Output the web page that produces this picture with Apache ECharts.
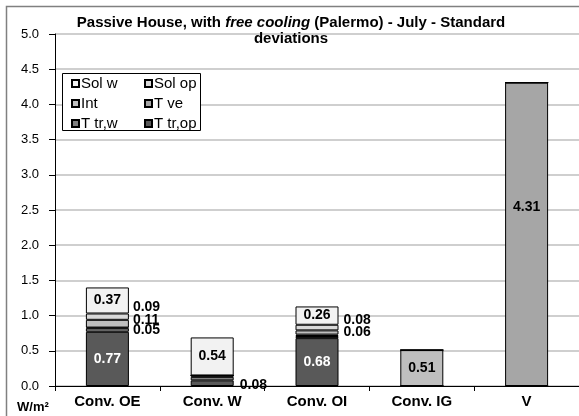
<!DOCTYPE html>
<html>
<head>
<meta charset="utf-8">
<script src="https://cdn.jsdelivr.net/npm/echarts@6/dist/echarts.min.js"></script>
<style>html,body{margin:0;padding:0;background:#fff}#c{width:579px;height:416px}</style>
</head>
<body>
<div id="c"></div>
<script>
const categories = ['Conv. OE', 'Conv. W', 'Conv. OI', 'Conv. IG', 'V'];
const solW  = [0.37, 0.54, 0.26, 0, 0];
const solOp = [0.09, 0, 0.08, 0, 0];
const intG  = [0.11, 0, 0.06, 0.51, 0];
const tVe   = [0.01, 0.02, 0.02, 0, 4.31];
const tTrW  = [0.05, 0.05, 0.03, 0, 0];
const tTrOp = [0.77, 0.08, 0.68, 0, 0];
const yMin = 0, yMax = 5, yStep = 0.5;

const FONT = 'Liberation Sans, Arial, sans-serif';
const colors = {
  'Sol w': '#f2f2f2', 'Sol op': '#d9d9d9', 'Int': '#bfbfbf',
  'T ve': '#a6a6a6', 'T tr,w': '#808080', 'T tr,op': '#595959'
};
const labelSpec = {
  'T tr,op': {0: {position: 'inside', color: '#fff'}, 1: {position: 'right', distance: 6, offset: [0, 2]}, 2: {position: 'inside', color: '#fff'}},
  'T tr,w': {0: {position: 'right', distance: 4}},
  'T ve': {4: {position: 'inside', offset: [0, -27]}},
  'Int': {0: {position: 'right', distance: 4, offset: [0, -4]}, 2: {position: 'right', distance: 5}, 3: {position: 'inside'}},
  'Sol op': {0: {position: 'right', distance: 4, offset: [0, -10]}, 2: {position: 'right', distance: 5, offset: [0, -7]}},
  'Sol w': {0: {position: 'inside'}, 1: {position: 'inside'}, 2: {position: 'inside'}}
};
function mkData(name, arr) {
  return arr.map((v, i) => {
    const l = labelSpec[name] && labelSpec[name][i];
    if (!l) return {value: v, label: {show: false}};
    return {value: v, label: Object.assign({show: true}, l)};
  });
}
const stackOrder = [['T tr,op', tTrOp], ['T tr,w', tTrW], ['T ve', tVe], ['Int', intG], ['Sol op', solOp], ['Sol w', solW]];
const series = stackOrder.map(([name, arr]) => ({
  name: name, type: 'bar', stack: 'a', barWidth: 43,
  itemStyle: {color: colors[name], borderColor: '#000', borderWidth: 1},
  label: {fontFamily: FONT, fontWeight: 'bold', fontSize: 14, color: '#000',
          formatter: p => p.value.toFixed(2)},
  emphasis: {disabled: true},
  data: mkData(name, arr)
}));

const legendCommon = {
  orient: 'vertical', itemWidth: 7, itemHeight: 7, itemGap: 5, icon: 'rect', padding: 0,
  textStyle: {fontFamily: FONT, fontSize: 15, color: '#000', lineHeight: 14, padding: [0, 0, 0, -3]},
  selectedMode: false, z: 5
};

const chart = echarts.init(document.getElementById('c'), null, {renderer: 'canvas'});
chart.setOption({
  animation: false,
  backgroundColor: '#fff',
  title: {
    text: '{b|Passive House, with }{i|free cooling}{b| (Palermo) - July - Standard}\n{b|deviations}',
    left: 291, top: 15, padding: 0,
    textAlign: 'center',
    textStyle: {rich: {
      b: {fontFamily: FONT, fontWeight: 'bold', fontSize: 15, color: '#000', lineHeight: 16, align: 'center'},
      i: {fontFamily: FONT, fontWeight: 'bold', fontStyle: 'italic', fontSize: 15, color: '#000', lineHeight: 16}
    }}
  },
  grid: {left: 55, right: -4, top: 34, bottom: 30, containLabel: false},
  legend: [
    Object.assign({}, legendCommon, {left: 71, top: 76, data: ['Sol w', 'Int', 'T tr,w']}),
    Object.assign({}, legendCommon, {left: 144, top: 76, data: ['Sol op', 'T ve', 'T tr,op']})
  ],
  xAxis: {
    type: 'category', data: categories,
    axisLine: {lineStyle: {color: '#000', width: 1}},
    axisTick: {show: true, length: 5, lineStyle: {color: '#000'}},
    axisLabel: {fontFamily: FONT, fontWeight: 'bold', fontSize: 15, color: '#000', margin: 8}
  },
  yAxis: {
    type: 'value', min: yMin, max: yMax, interval: yStep,
    axisLine: {show: true, lineStyle: {color: '#000', width: 1}},
    axisTick: {show: true, length: 6, lineStyle: {color: '#000'}},
    axisLabel: {fontFamily: FONT, fontSize: 13, color: '#000', margin: 16,
                formatter: v => v.toFixed(1)},
    splitLine: {lineStyle: {color: '#bfbfbf', width: 1.5}}
  },
  graphic: [
    {type: 'rect', shape: {x: 6.5, y: 6.5, width: 620, height: 500},
     style: {fill: 'none', stroke: '#808080', lineWidth: 1.5}, z: 10, silent: true},
    {type: 'rect', shape: {x: 62.5, y: 73.5, width: 138, height: 57},
     style: {fill: '#fff', stroke: '#000', lineWidth: 1}, z: 3, silent: true},
    {type: 'text', left: 17, top: 401,
     style: {text: 'W/m²', fontFamily: FONT, fontWeight: 'bold', fontSize: 13, fill: '#000'}, z: 5}
  ],
  series: series
});
</script>
</body>
</html>
